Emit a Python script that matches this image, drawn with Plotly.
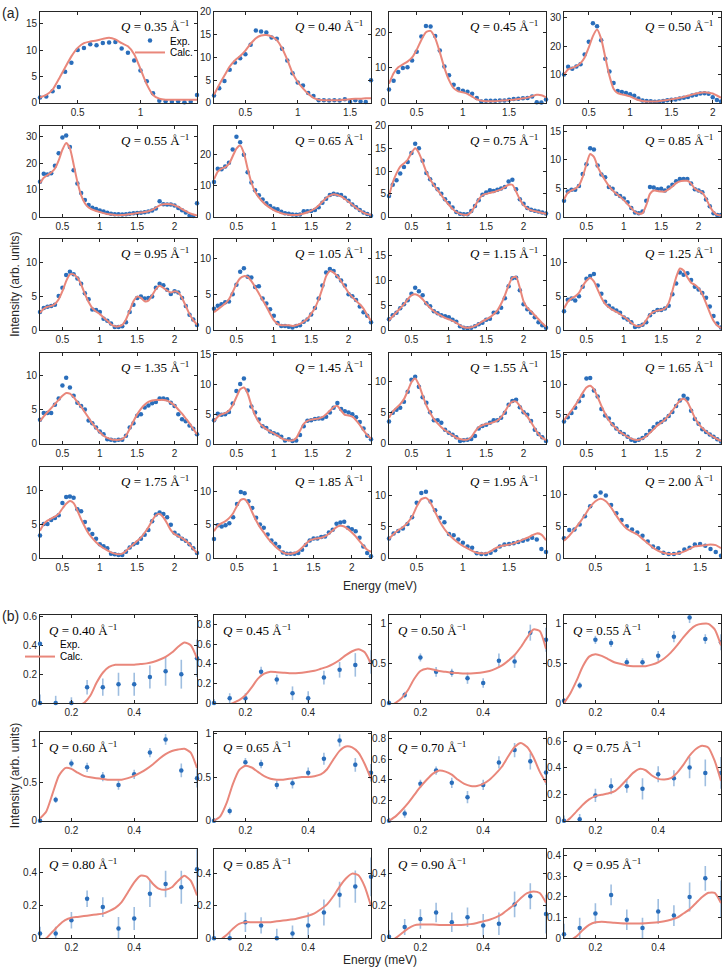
import plotly.graph_objects as go

W, H = 722, 975
BLUE = '#2a6ebb'
BLUE_ERR = 'rgba(42,110,187,0.45)'
RED = '#e9877b'
AXC = '#262626'
SANS = 'Liberation Sans, Arial, sans-serif'
SERIF = 'Liberation Serif, Times New Roman, serif'

# energy grids (meV)
E_A = [0.20, 0.25, 0.30, 0.35, 0.40, 0.45, 0.50, 0.55, 0.60, 0.65, 0.70,
       0.75, 0.80, 0.85, 0.90, 0.95, 1.00, 1.05, 1.10, 1.15, 1.20, 1.25,
       1.30, 1.35, 1.40, 1.45, 1.50, 1.55, 1.60, 1.65, 1.70, 1.75, 1.80,
       1.85, 1.90, 1.95, 2.00, 2.05, 2.10, 2.15, 2.20, 2.25, 2.30]
E_B = [0.10, 0.15, 0.20, 0.25, 0.30, 0.35, 0.40, 0.45, 0.50, 0.55, 0.60]
E_B_FINE = [0.10, 0.12, 0.14, 0.16, 0.18, 0.20, 0.22, 0.24, 0.26, 0.28,
            0.30, 0.32, 0.34, 0.36, 0.38, 0.40, 0.42, 0.44, 0.46, 0.48,
            0.50, 0.52, 0.54, 0.56, 0.58, 0.60]

# ---- panel (a) data ----
A035_EXP = [1.0, 1.2, 2.2, 3.0, 5.9, 7.6, 10.0, 10.4, 11.1, 10.9, 11.3, 11.4, 11.5, 10.3, 9.5, 8.0, 6.1, 4.1, 1.8, 0.4,
            0.3, 0.2, 0.3, 0.1, 0.2, 1.5]
A035_CALC = [1.0, 1.5, 2.5, 4.5, 6.7, 8.8, 10.4, 11.3, 11.6, 11.8, 12.1, 12.3, 12.0, 11.3, 10.7, 9.2, 6.4, 3.5, 1.5, 0.8,
             0.6, 0.6, 0.6, 0.6, 0.6, 0.6]
A040_EXP = [1.6, 3.2, 4.8, 7.3, 8.9, 9.8, 10.7, 12.8, 15.9, 15.7, 15.5, 14.4, 14.1, 11.9, 9.3, 6.5, 4.5, 3.8, 2.2, 1.5,
            0.6, 0.6, 0.5, 0.6, 0.5, 0.8, 0.2, 0.6, 0.3, 0.2, 5.0]
A040_CALC = [1.8, 4.0, 6.0, 8.0, 9.3, 10.3, 11.5, 13.0, 14.2, 14.8, 14.9, 14.6, 13.8, 12.0, 9.5, 6.6, 4.6, 3.2, 2.0, 1.1,
             0.7, 0.6, 0.6, 0.6, 0.6, 0.7, 0.8, 0.9, 0.9, 1.0, 1.0]
A045_EXP = [3.8, 6.3, 8.8, 10.0, 10.2, 12.1, 14.6, 19.0, 22.0, 21.8, 19.1, 15.0, 10.4, 7.9, 5.2, 4.0, 3.5, 3.2, 2.6, 1.4,
            0.4, 0.6, 0.6, 0.6, 0.7, 0.7, 0.9, 1.1, 1.2, 1.3, 1.4, 1.8, 0.2, 0.1, 1.0]
A045_CALC = [5.5, 8.5, 10.2, 11.0, 11.8, 13.0, 15.2, 18.0, 20.2, 20.6, 18.5, 14.5, 10.0, 6.5, 4.2, 3.3, 3.0, 2.6, 1.8, 1.0,
             0.6, 0.5, 0.5, 0.5, 0.6, 0.7, 0.8, 0.9, 1.1, 1.3, 1.5, 1.9, 2.3, 2.2, 1.6]
A050_EXP = [10.0, 12.7, 12.0, 12.8, 13.6, 17.0, 21.5, 28.0, 27.0, 22.0, 15.5, 11.0, 7.0, 4.2, 3.8, 3.5, 3.0, 2.5, 1.5, 0.8,
            0.7, 0.6, 0.4, 0.5, 0.7, 0.9, 1.1, 1.2, 1.5, 1.8, 2.1, 2.6, 2.9, 3.3, 3.4, 3.2, 2.0, 1.0, 0.5]
A050_CALC = [10.0, 11.8, 12.3, 12.9, 14.0, 16.0, 19.5, 23.5, 25.8, 22.5, 16.0, 9.5, 5.0, 3.4, 3.0, 2.7, 2.3, 1.6, 1.0, 0.7,
             0.5, 0.5, 0.5, 0.6, 0.8, 1.0, 1.3, 1.5, 1.8, 2.1, 2.5, 2.9, 3.3, 3.6, 3.7, 3.6, 3.3, 2.6, 1.8]
A055_EXP = [13.0, 16.0, 15.7, 16.2, 19.0, 23.7, 29.6, 30.3, 26.0, 17.3, 12.4, 8.8, 6.2, 4.3, 3.3, 2.8, 2.3, 1.9, 1.4, 1.1,
            0.9, 0.9, 0.8, 0.9, 1.1, 1.2, 1.3, 1.4, 1.6, 1.9, 2.3, 3.0, 5.7, 4.6, 4.5, 4.5, 4.1, 3.2, 2.4, 1.5,
            0.3, 0.2, 5.0]
A055_CALC = [12.5, 14.5, 15.5, 16.5, 18.0, 21.0, 25.0, 27.5, 25.5, 19.5, 13.0, 8.0, 5.0, 3.4, 2.6, 2.1, 1.7, 1.3, 1.0, 0.8,
             0.6, 0.5, 0.6, 0.7, 0.9, 1.1, 1.3, 1.5, 1.7, 2.0, 2.5, 3.3, 4.2, 4.6, 4.7, 4.6, 4.2, 3.6, 2.8, 2.0,
             1.3, 0.8, 0.4]
A065_EXP = [11.2, 15.5, 15.3, 16.2, 17.4, 21.7, 25.8, 24.0, 20.0, 14.3, 11.0, 8.5, 6.9, 5.5, 4.3, 3.4, 2.6, 2.4, 1.6, 1.1,
            0.9, 0.7, 0.6, 0.7, 1.7, 1.7, 1.8, 2.1, 3.0, 4.5, 5.8, 7.0, 7.4, 7.1, 7.0, 6.1, 5.1, 3.9, 3.0, 2.1,
            1.3, 0.8, 0.3]
A065_CALC = [12.0, 14.5, 15.5, 16.0, 17.0, 19.5, 22.0, 23.0, 20.5, 15.5, 11.0, 8.0, 6.2, 4.8, 3.7, 2.8, 2.1, 1.5, 1.1, 0.8,
             0.6, 0.5, 0.5, 0.7, 1.0, 1.4, 1.9, 2.6, 3.6, 4.8, 6.0, 6.8, 7.2, 7.0, 6.5, 5.7, 4.8, 3.8, 2.9, 2.0,
             1.3, 0.8, 0.5]
A075_EXP = [4.5, 7.0, 8.0, 9.5, 10.9, 12.0, 14.0, 16.0, 15.0, 12.3, 9.6, 8.2, 7.0, 6.0, 5.0, 3.8, 3.0, 2.0, 1.0, 0.6,
            0.5, 0.5, 1.2, 2.3, 3.6, 4.8, 5.3, 5.8, 5.6, 5.9, 6.2, 6.5, 7.7, 8.1, 6.0, 3.8, 2.8, 1.9, 1.5, 1.3,
            1.1, 0.9, 0.7]
A075_CALC = [4.5, 7.5, 9.5, 11.0, 11.7, 12.5, 14.0, 15.0, 14.0, 12.0, 9.8, 8.2, 6.9, 5.8, 4.7, 3.6, 2.6, 1.7, 1.0, 0.6,
             0.4, 0.4, 1.0, 2.3, 3.8, 4.7, 5.0, 5.2, 5.4, 5.7, 6.0, 6.5, 7.0, 7.0, 5.5, 3.8, 2.5, 1.8, 1.4, 1.2,
             1.0, 0.8, 0.6]
A085_EXP = [2.8, 4.4, 4.7, 4.7, 5.4, 7.5, 9.2, 12.0, 11.8, 9.0, 7.4, 6.9, 5.2, 4.9, 4.0, 3.6, 3.2, 2.5, 1.5, 0.7,
            0.6, 0.9, 2.8, 5.2, 5.1, 4.8, 4.9, 4.6, 5.1, 5.6, 6.2, 6.6, 6.6, 6.6, 5.8, 4.8, 4.6, 4.3, 3.0, 1.8,
            0.6, 0.3, 0.3]
A085_CALC = [3.0, 4.2, 4.6, 4.9, 5.5, 7.0, 9.2, 11.0, 10.5, 8.8, 7.5, 6.4, 5.4, 4.6, 4.0, 3.5, 2.9, 2.2, 1.5, 0.8,
             0.5, 0.6, 2.0, 4.0, 4.6, 4.5, 4.4, 4.4, 4.8, 5.3, 5.9, 6.2, 6.3, 6.3, 5.8, 4.9, 4.5, 4.2, 3.2, 1.8,
             0.8, 0.3, 0.2]
A095_EXP = [2.7, 3.3, 3.5, 3.6, 3.8, 5.1, 6.3, 8.2, 8.7, 8.3, 7.7, 6.9, 5.5, 4.6, 3.1, 3.0, 2.7, 1.7, 1.4, 1.0,
            0.5, 0.5, 0.6, 1.2, 2.7, 3.8, 4.8, 5.0, 4.7, 4.8, 5.0, 6.3, 6.9, 6.7, 6.0, 5.4, 5.8, 5.6, 4.8, 3.6,
            2.3, 1.6, 0.8]
A095_CALC = [2.6, 3.2, 3.5, 3.6, 3.9, 4.6, 5.8, 7.3, 8.3, 8.3, 7.8, 6.8, 5.4, 4.2, 3.3, 2.8, 2.4, 1.9, 1.4, 0.9,
             0.6, 0.6, 0.8, 1.6, 2.9, 4.3, 5.0, 4.8, 4.3, 4.4, 5.2, 6.1, 6.6, 6.3, 5.9, 5.6, 5.8, 5.6, 4.8, 3.6,
             2.4, 1.5, 0.8]
A105_EXP = [3.0, 3.4, 3.6, 3.9, 4.0, 5.0, 6.3, 8.1, 8.6, 7.4, 7.3, 6.0, 6.1, 4.4, 3.7, 2.9, 2.0, 1.0, 0.6, 0.6,
            0.5, 0.4, 0.6, 0.7, 1.2, 1.5, 2.2, 3.1, 4.4, 6.2, 8.0, 8.5, 8.2, 7.5, 6.9, 6.2, 5.0, 4.7, 4.2, 3.3,
            2.5, 2.0, 1.1]
A105_CALC = [2.5, 2.9, 3.3, 3.7, 4.3, 5.3, 6.4, 7.2, 7.5, 7.4, 6.8, 6.0, 5.1, 4.2, 3.3, 2.3, 1.4, 0.9, 0.7, 0.7,
             0.7, 0.6, 0.7, 0.9, 1.2, 1.6, 2.3, 3.1, 4.3, 5.8, 7.5, 8.2, 8.0, 7.5, 6.8, 6.0, 5.2, 4.6, 4.1, 3.6,
             3.0, 2.1, 1.3]
A115_EXP = [2.2, 3.0, 3.5, 4.4, 5.2, 6.0, 7.3, 8.5, 7.8, 7.0, 5.4, 4.8, 3.8, 3.4, 3.0, 2.8, 2.6, 2.1, 1.7, 0.8,
            0.5, 0.4, 0.5, 0.8, 1.2, 1.5, 2.1, 2.3, 3.5, 3.6, 4.5, 6.4, 8.8, 10.4, 10.5, 8.0, 5.2, 4.2, 3.5, 2.6,
            1.6, 1.0, 0.5]
A115_CALC = [2.0, 2.8, 3.6, 4.4, 5.2, 6.2, 7.0, 7.2, 6.9, 6.2, 5.3, 4.5, 3.8, 3.3, 2.9, 2.5, 2.2, 1.9, 1.5, 1.0,
             0.6, 0.5, 0.6, 0.9, 1.3, 1.8, 2.2, 2.6, 3.2, 4.0, 5.3, 7.0, 9.0, 10.5, 10.7, 8.5, 5.8, 4.5, 3.8, 3.0,
             2.2, 1.4, 0.7]
A125_EXP = [2.8, 4.5, 4.7, 4.4, 5.0, 6.4, 7.6, 8.0, 8.3, 6.6, 5.4, 4.2, 3.6, 3.2, 2.9, 2.6, 1.9, 1.6, 1.2, 0.5,
            0.6, 0.8, 1.2, 2.2, 2.7, 3.0, 3.0, 3.2, 3.6, 5.3, 6.9, 8.5, 8.2, 8.4, 7.4, 6.4, 6.0, 5.5, 4.8, 3.5,
            2.1, 1.0, 0.4]
A125_CALC = [3.2, 4.2, 4.7, 5.0, 5.5, 6.5, 7.3, 7.7, 7.2, 6.0, 4.8, 3.9, 3.4, 3.0, 2.7, 2.4, 2.0, 1.6, 1.1, 0.7,
             0.6, 0.8, 1.5, 2.3, 2.7, 2.9, 3.0, 3.2, 4.0, 5.8, 7.8, 9.1, 8.8, 7.8, 7.0, 6.7, 6.2, 5.3, 4.0, 2.6,
             1.4, 0.7, 0.3]
A135_EXP = [3.5, 4.5, 4.5, 4.5, 5.7, 6.6, 8.5, 9.6, 8.2, 7.0, 6.0, 5.5, 5.0, 3.4, 3.0, 2.4, 1.8, 1.4, 0.7, 0.6,
            0.5, 0.6, 0.6, 1.2, 2.4, 3.0, 4.1, 4.3, 5.3, 5.6, 5.9, 6.1, 6.6, 6.6, 6.5, 6.0, 5.5, 4.3, 3.6, 3.3,
            2.7, 2.2, 1.4]
A135_CALC = [3.3, 4.0, 4.6, 5.2, 5.8, 6.4, 7.0, 7.4, 7.3, 6.8, 6.1, 5.4, 4.6, 3.8, 3.0, 2.3, 1.7, 1.2, 0.9, 0.7,
             0.6, 0.6, 0.7, 1.2, 2.2, 3.3, 4.3, 5.1, 5.7, 6.1, 6.3, 6.4, 6.4, 6.4, 6.3, 6.0, 5.6, 5.0, 4.4, 3.7,
             3.0, 2.2, 1.4]
A145_EXP = [4.0, 5.1, 4.9, 5.0, 5.4, 6.8, 8.9, 10.1, 11.0, 9.0, 6.3, 5.3, 4.1, 3.0, 2.7, 2.1, 1.8, 1.6, 1.2, 0.6,
            0.8, 0.5, 0.6, 1.5, 3.0, 3.9, 4.0, 4.2, 4.3, 4.3, 4.6, 5.3, 6.1, 6.9, 5.9, 5.5, 5.3, 5.0, 4.5, 3.7,
            2.6, 1.4, 0.8]
A145_CALC = [3.8, 4.6, 5.0, 5.2, 5.6, 6.5, 7.9, 9.2, 9.5, 8.5, 6.5, 4.8, 3.7, 3.0, 2.5, 2.1, 1.8, 1.4, 1.0, 0.7,
             0.6, 0.6, 1.0, 2.2, 3.4, 3.9, 4.1, 4.2, 4.3, 4.5, 5.0, 5.6, 6.2, 6.4, 5.6, 4.9, 4.8, 4.6, 4.0, 3.2,
             2.3, 1.5, 0.9]
A155_EXP = [3.6, 5.0, 5.5, 5.8, 6.8, 8.4, 10.3, 10.8, 9.2, 7.5, 6.6, 5.1, 3.8, 3.8, 3.4, 2.3, 1.8, 1.5, 1.1, 0.5,
            0.6, 0.7, 0.8, 1.3, 2.5, 2.9, 3.1, 3.4, 3.8, 3.8, 4.2, 5.0, 6.3, 6.9, 7.1, 5.9, 5.1, 4.7, 3.7, 2.3,
            1.6, 1.1, 0.5]
A155_CALC = [4.2, 5.2, 5.8, 6.4, 7.2, 8.5, 9.9, 10.5, 9.5, 7.8, 6.2, 5.0, 4.0, 3.3, 2.7, 2.2, 1.8, 1.4, 1.0, 0.8,
             0.7, 0.7, 1.1, 2.0, 2.7, 3.0, 3.2, 3.3, 3.5, 3.8, 4.3, 5.2, 6.2, 6.8, 6.8, 6.1, 5.1, 4.4, 3.5, 2.5,
             1.6, 1.0, 0.6]
A165_EXP = [3.8, 4.5, 5.2, 6.1, 7.2, 8.1, 11.0, 11.1, 9.0, 8.0, 5.9, 4.8, 4.3, 3.3, 2.6, 2.0, 1.7, 1.2, 0.7, 0.5,
            0.7, 1.0, 1.5, 2.2, 2.8, 3.4, 3.7, 4.1, 4.7, 5.4, 6.4, 7.3, 8.1, 7.6, 5.6, 4.2, 3.4, 2.5, 2.0, 1.6,
            1.2, 0.8, 0.4]
A165_CALC = [4.0, 4.8, 5.6, 6.5, 7.5, 8.6, 9.5, 9.8, 9.2, 7.9, 6.4, 5.1, 4.0, 3.2, 2.6, 2.0, 1.6, 1.2, 0.9, 0.7,
             0.7, 0.9, 1.3, 1.9, 2.5, 3.1, 3.6, 4.1, 4.8, 5.6, 6.5, 7.3, 7.6, 7.1, 5.8, 4.4, 3.4, 2.7, 2.1, 1.6,
             1.2, 0.8, 0.5]
A175_EXP = [3.3, 5.0, 5.0, 5.6, 5.9, 6.3, 8.1, 9.0, 9.1, 8.9, 7.2, 6.9, 5.3, 4.2, 3.5, 2.8, 2.0, 1.7, 1.4, 0.6,
            0.5, 0.4, 0.4, 0.9, 1.5, 2.0, 2.2, 2.8, 3.4, 4.1, 5.4, 6.4, 6.7, 6.5, 6.0, 4.9, 3.7, 3.3, 2.8, 2.5,
            2.0, 1.4, 0.7]
A175_CALC = [4.0, 5.0, 5.5, 5.8, 6.1, 6.5, 7.3, 8.0, 8.4, 8.1, 7.0, 5.7, 4.6, 3.6, 2.9, 2.3, 1.8, 1.4, 1.1, 0.8,
             0.6, 0.5, 0.6, 1.0, 1.5, 2.0, 2.5, 3.0, 3.7, 4.5, 5.5, 6.3, 6.5, 6.0, 5.1, 4.1, 3.5, 3.2, 2.9, 2.5,
             2.0, 1.3, 0.7]
A185_EXP = [2.8, 4.9, 4.7, 4.9, 5.2, 6.1, 8.1, 9.9, 9.7, 8.5, 7.5, 6.0, 5.0, 4.5, 3.5, 2.6, 2.1, 1.6, 0.8, 0.6,
            0.6, 0.6, 0.7, 1.2, 1.9, 2.6, 2.9, 2.9, 3.1, 3.2, 3.8, 4.2, 5.1, 5.3, 5.4, 4.5, 4.3, 4.0, 3.0, 1.7,
            0.7, 0.2]
A185_CALC = [4.0, 4.8, 5.2, 5.5, 6.0, 6.7, 7.8, 8.7, 8.8, 8.1, 6.8, 5.6, 4.6, 3.8, 3.0, 2.3, 1.7, 1.2, 0.8, 0.6,
             0.6, 0.7, 1.0, 1.5, 2.1, 2.6, 2.8, 2.9, 3.0, 3.2, 3.6, 4.1, 4.6, 4.8, 4.7, 4.3, 3.8, 3.2, 2.5, 1.8,
             1.2, 0.9]
A195_EXP = [3.1, 3.9, 4.3, 4.7, 5.4, 6.5, 8.8, 10.4, 10.6, 9.0, 7.6, 6.4, 5.7, 3.8, 3.6, 2.9, 2.4, 1.8, 1.6, 0.7,
            0.6, 0.6, 0.8, 1.2, 1.8, 2.1, 2.2, 2.3, 2.5, 2.7, 2.9, 3.2, 2.9, 1.4, 0.9]
A195_CALC = [3.0, 3.8, 4.4, 4.9, 5.6, 6.6, 8.2, 9.4, 9.6, 8.8, 7.3, 5.8, 4.6, 3.7, 3.0, 2.4, 1.9, 1.5, 1.1, 0.8,
             0.7, 0.7, 1.0, 1.5, 1.8, 2.0, 2.1, 2.3, 2.6, 2.9, 3.2, 3.6, 3.9, 3.7, 2.8]
A200_EXP = [3.1, 4.4, 4.5, 5.3, 6.6, 8.2, 9.8, 10.4, 9.9, 8.4, 7.1, 6.0, 5.0, 4.5, 4.0, 3.5, 2.6, 1.8, 1.5, 0.8,
            0.6, 0.6, 0.8, 1.3, 1.6, 2.1, 2.2, 1.9, 1.4, 0.9, 0.3]
A200_CALC = [2.7, 3.5, 4.5, 5.6, 6.8, 8.1, 9.0, 9.4, 9.0, 8.0, 6.7, 5.5, 4.6, 4.1, 3.7, 3.0, 2.3, 1.6, 1.1, 0.8,
             0.6, 0.6, 0.7, 1.0, 1.4, 1.8, 1.9, 2.0, 2.1, 2.0, 1.5]

# ---- panel (b) data ----
B040_EXP = [0.0, 0.0, 0.0, 0.11, 0.11, 0.13, 0.13, 0.18, 0.22, 0.20, 0.31]
B040_ERR = [0.06, 0.05, 0.04, 0.05, 0.06, 0.08, 0.08, 0.08, 0.10, 0.10, 0.13]
B040_CALC = [-0.1, -0.1, -0.1, -0.08, -0.06, -0.04, -0.02, 0.0, 0.05, 0.14, 0.21, 0.25, 0.265, 0.265, 0.265, 0.265,
             0.27, 0.275, 0.285, 0.30, 0.32, 0.35, 0.39, 0.42, 0.40, 0.31]
B045_EXP = [0.0, 0.05, 0.05, 0.32, 0.24, 0.10, 0.05, 0.26, 0.34, 0.39, 0.42]
B045_ERR = [0.04, 0.05, 0.05, 0.05, 0.05, 0.07, 0.07, 0.07, 0.08, 0.12, 0.12]
B045_CALC = [-0.1, -0.08, -0.03, 0.0, 0.03, 0.08, 0.16, 0.25, 0.30, 0.32, 0.315, 0.31, 0.305, 0.305, 0.31, 0.32,
             0.33, 0.35, 0.37, 0.40, 0.44, 0.49, 0.53, 0.55, 0.52, 0.40]
B050_EXP = [0.0, 0.10, 0.57, 0.39, 0.38, 0.31, 0.25, 0.53, 0.52, 0.88, 0.79]
B050_ERR = [0.04, 0.04, 0.05, 0.06, 0.05, 0.07, 0.06, 0.09, 0.08, 0.10, 0.15]
B050_CALC = [-0.05, 0.0, 0.06, 0.16, 0.30, 0.40, 0.43, 0.42, 0.40, 0.39, 0.38, 0.375, 0.37, 0.37, 0.375, 0.385,
             0.40, 0.43, 0.47, 0.53, 0.60, 0.70, 0.82, 0.92, 0.90, 0.68]
B055_EXP = [0.03, 0.22, 0.79, 0.75, 0.51, 0.51, 0.59, 0.83, 1.07, 0.80, 0.76]
B055_ERR = [0.03, 0.04, 0.05, 0.05, 0.05, 0.05, 0.06, 0.07, 0.07, 0.06, 0.10]
B055_CALC = [0.0, 0.12, 0.28, 0.46, 0.58, 0.61, 0.59, 0.55, 0.51, 0.49, 0.47, 0.46, 0.46, 0.46, 0.48, 0.51,
             0.56, 0.63, 0.72, 0.82, 0.91, 0.97, 0.99, 0.99, 0.92, 0.72]
B060_EXP = [0.0, 0.27, 0.74, 0.69, 0.57, 0.46, 0.60, 0.88, 1.05, 0.65, 0.55]
B060_ERR = [0.03, 0.04, 0.05, 0.06, 0.06, 0.06, 0.06, 0.06, 0.07, 0.09, 0.12]
B060_CALC = [0.03, 0.12, 0.35, 0.58, 0.68, 0.67, 0.62, 0.58, 0.56, 0.55, 0.54, 0.53, 0.53, 0.53, 0.55, 0.58,
             0.62, 0.67, 0.73, 0.80, 0.86, 0.90, 0.92, 0.93, 0.88, 0.68]
B065_EXP = [0.0, 0.11, 0.67, 0.65, 0.41, 0.43, 0.55, 0.71, 0.92, 0.64, 0.55]
B065_ERR = [0.03, 0.04, 0.05, 0.05, 0.05, 0.06, 0.06, 0.07, 0.07, 0.08, 0.10]
B065_CALC = [0.0, 0.05, 0.20, 0.42, 0.58, 0.63, 0.61, 0.56, 0.51, 0.48, 0.47, 0.47, 0.48, 0.49, 0.50, 0.50,
             0.51, 0.53, 0.59, 0.70, 0.80, 0.85, 0.84, 0.78, 0.65, 0.48]
B070_EXP = [0.0, 0.07, 0.36, 0.49, 0.37, 0.23, 0.35, 0.57, 0.69, 0.58, 0.47]
B070_ERR = [0.03, 0.04, 0.04, 0.04, 0.05, 0.06, 0.05, 0.06, 0.07, 0.08, 0.12]
B070_CALC = [0.0, 0.04, 0.10, 0.17, 0.25, 0.33, 0.40, 0.46, 0.49, 0.48, 0.45, 0.40, 0.36, 0.34, 0.34, 0.36,
             0.40, 0.46, 0.53, 0.63, 0.72, 0.76, 0.72, 0.62, 0.48, 0.37]
B075_EXP = [0.0, 0.01, 0.19, 0.26, 0.26, 0.24, 0.35, 0.32, 0.40, 0.36, 0.36]
B075_ERR = [0.04, 0.04, 0.05, 0.06, 0.05, 0.08, 0.06, 0.06, 0.08, 0.10, 0.12]
B075_CALC = [-0.02, 0.02, 0.07, 0.12, 0.16, 0.185, 0.195, 0.205, 0.22, 0.26, 0.31, 0.36, 0.39, 0.38, 0.34, 0.315,
             0.31, 0.32, 0.36, 0.42, 0.49, 0.54, 0.565, 0.55, 0.45, 0.30]
B080_EXP = [0.03, 0.03, 0.11, 0.24, 0.19, 0.06, 0.12, 0.27, 0.33, 0.31, 0.42]
B080_ERR = [0.04, 0.04, 0.05, 0.05, 0.06, 0.07, 0.07, 0.08, 0.08, 0.10, 0.15]
B080_CALC = [-0.03, 0.0, 0.04, 0.08, 0.11, 0.125, 0.13, 0.135, 0.14, 0.145, 0.15, 0.165, 0.185, 0.22, 0.28, 0.34,
             0.38, 0.375, 0.33, 0.30, 0.295, 0.31, 0.35, 0.38, 0.35, 0.26]
B085_EXP = [0.0, 0.0, 0.10, 0.08, 0.0, 0.03, 0.08, 0.16, 0.27, 0.32, 0.38]
B085_ERR = [0.05, 0.04, 0.06, 0.05, 0.06, 0.05, 0.08, 0.08, 0.08, 0.10, 0.12]
B085_CALC = [-0.04, -0.01, 0.02, 0.06, 0.09, 0.10, 0.10, 0.10, 0.10, 0.10, 0.105, 0.11, 0.115, 0.12, 0.13, 0.14,
             0.155, 0.18, 0.21, 0.26, 0.32, 0.37, 0.40, 0.39, 0.32, 0.20]
B090_EXP = [0.01, 0.07, 0.12, 0.16, 0.10, 0.13, 0.08, 0.09, 0.21, 0.26, 0.15]
B090_ERR = [0.04, 0.05, 0.06, 0.06, 0.06, 0.06, 0.07, 0.07, 0.08, 0.08, 0.12]
B090_CALC = [-0.03, 0.0, 0.03, 0.06, 0.08, 0.085, 0.085, 0.085, 0.083, 0.082, 0.082, 0.082, 0.084, 0.088, 0.095,
             0.105, 0.115, 0.13, 0.15, 0.18, 0.21, 0.25, 0.28, 0.29, 0.28, 0.22]
B095_EXP = [0.02, 0.05, 0.12, 0.21, 0.09, 0.05, 0.13, 0.11, 0.20, 0.29, 0.19]
B095_ERR = [0.05, 0.05, 0.05, 0.05, 0.05, 0.05, 0.06, 0.05, 0.07, 0.06, 0.09]
B095_CALC = [-0.03, -0.01, 0.01, 0.04, 0.065, 0.078, 0.08, 0.078, 0.075, 0.073, 0.072, 0.072, 0.072, 0.073, 0.075,
             0.078, 0.083, 0.09, 0.10, 0.12, 0.14, 0.17, 0.20, 0.22, 0.22, 0.17]

# (Q label, exp, calc, x max, y max, y tick step)
PANELS_A = [
    ('0.35', A035_EXP, A035_CALC, 1.45, 17.2, 5), ('0.40', A040_EXP, A040_CALC, 1.7, 20, 5),
    ('0.45', A045_EXP, A045_CALC, 1.9, 26, 10), ('0.50', A050_EXP, A050_CALC, 2.1, 32, 10),
    ('0.55', A055_EXP, A055_CALC, 2.3, 34, 10), ('0.65', A065_EXP, A065_CALC, 2.3, 29.4, 10),
    ('0.75', A075_EXP, A075_CALC, 2.3, 20, 5), ('0.85', A085_EXP, A085_CALC, 2.3, 16, 5),
    ('0.95', A095_EXP, A095_CALC, 2.3, 13.5, 5), ('1.05', A105_EXP, A105_CALC, 2.3, 12.6, 5),
    ('1.15', A115_EXP, A115_CALC, 2.3, 18.2, 5), ('1.25', A125_EXP, A125_CALC, 2.3, 13.4, 5),
    ('1.35', A135_EXP, A135_CALC, 2.3, 13.2, 5), ('1.45', A145_EXP, A145_CALC, 2.3, 15.3, 5),
    ('1.55', A155_EXP, A155_CALC, 2.3, 14.6, 5), ('1.65', A165_EXP, A165_CALC, 2.3, 15.3, 5),
    ('1.75', A175_EXP, A175_CALC, 2.3, 13.5, 5), ('1.85', A185_EXP, A185_CALC, 2.25, 13.7, 5),
    ('1.95', A195_EXP, A195_CALC, 1.9, 14.6, 5), ('2.00', A200_EXP, A200_CALC, 1.7, 14.5, 5),
]
PANELS_B = [
    ('0.40', B040_EXP, B040_ERR, B040_CALC, 0.61, 0.2), ('0.45', B045_EXP, B045_ERR, B045_CALC, 0.9, 0.2),
    ('0.50', B050_EXP, B050_ERR, B050_CALC, 1.1, 0.5), ('0.55', B055_EXP, B055_ERR, B055_CALC, 1.1, 0.5),
    ('0.60', B060_EXP, B060_ERR, B060_CALC, 1.15, 0.5), ('0.65', B065_EXP, B065_ERR, B065_CALC, 1.02, 0.5),
    ('0.70', B070_EXP, B070_ERR, B070_CALC, 0.87, 0.2), ('0.75', B075_EXP, B075_ERR, B075_CALC, 0.67, 0.2),
    ('0.80', B080_EXP, B080_ERR, B080_CALC, 0.54, 0.2), ('0.85', B085_EXP, B085_ERR, B085_CALC, 0.55, 0.2),
    ('0.90', B090_EXP, B090_ERR, B090_CALC, 0.55, 0.2), ('0.95', B095_EXP, B095_ERR, B095_CALC, 0.43, 0.1),
]

# panel boxes in pixels
COLS = [(40, 197), (214, 371), (389, 546), (564, 721)]
ROWS_A = [(7, 99), (122, 214), (237, 329), (352, 444), (467, 559)]
ROWS_B = [(617, 706), (735, 825), (854, 944)]


def qlabel(q):
    return '<i>Q</i> = %s Å<sup>−1</sup>' % q


def axis_style(dom, rng, anchor):
    return dict(domain=dom, range=rng, anchor=anchor, showline=True, linecolor=AXC, linewidth=1,
                mirror='ticks', ticks='inside', ticklen=3, tickwidth=1, tickcolor=AXC,
                showgrid=False, zeroline=False,
                tickfont=dict(family=SANS, size=10, color=AXC))


fig = go.Figure()
layout = {}
annotations = []


def add_axes(n, col, row, xrange, yrange, ytick, xticks):
    xa = 'xaxis' if n == 1 else 'xaxis%d' % n
    ya = 'yaxis' if n == 1 else 'yaxis%d' % n
    xr = 'x' if n == 1 else 'x%d' % n
    yr = 'y' if n == 1 else 'y%d' % n
    xs = axis_style([col[0] / W, col[1] / W], xrange, yr)
    xs.update(xticks)
    ys = axis_style([1 - row[1] / H, 1 - row[0] / H], yrange, xr)
    ys.update(tick0=0, dtick=ytick)
    layout[xa] = xs
    layout[ya] = ys
    return xr, yr


n = 0
for i, (q, exp, calc, xmax, ymax, dy) in enumerate(PANELS_A):
    n += 1
    r, c = divmod(i, 4)
    col, row = COLS[c], ROWS_A[r]
    xr, yr = add_axes(n, col, row, [0.2, xmax], [0, ymax], dy, dict(tick0=0, dtick=0.5))
    fig.add_trace(go.Scatter(x=E_A[:len(exp)], y=exp, mode='markers', name='Exp.',
                             marker=dict(size=4.5, color=BLUE), cliponaxis=False,
                             showlegend=(i == 0), legend='legend', xaxis=xr, yaxis=yr))
    fig.add_trace(go.Scatter(x=E_A[:len(calc)], y=calc, mode='lines', name='Calc.',
                             line=dict(color=RED, width=2, shape='spline', smoothing=0.6),
                             showlegend=(i == 0), legend='legend2', xaxis=xr, yaxis=yr))
    annotations.append(dict(text=qlabel(q), xref='paper', yref='paper',
                            x=(col[1] - 6) / W, y=1 - (row[0] + 4) / H,
                            xanchor='right', yanchor='top', showarrow=False,
                            font=dict(family=SERIF, size=13, color='black')))

for i, (q, exp, err, calc, ymax, dy) in enumerate(PANELS_B):
    n += 1
    r, c = divmod(i, 4)
    col, row = COLS[c], ROWS_B[r]
    xr, yr = add_axes(n, col, row, [0.1, 0.6], [0, ymax], dy, dict(tickvals=[0.2, 0.4]))
    fig.add_trace(go.Scatter(x=E_B, y=exp, mode='markers', name='Exp.',
                             marker=dict(size=4.5, color=BLUE), cliponaxis=False,
                             error_y=dict(type='data', array=err, color=BLUE_ERR, thickness=1.6, width=0),
                             showlegend=(i == 0), legend='legend3', xaxis=xr, yaxis=yr))
    fig.add_trace(go.Scatter(x=E_B_FINE, y=calc, mode='lines', name='Calc.',
                             line=dict(color=RED, width=2, shape='spline', smoothing=0.6),
                             showlegend=(i == 0), legend='legend4', xaxis=xr, yaxis=yr))
    annotations.append(dict(text=qlabel(q), xref='paper', yref='paper',
                            x=(col[0] + 7) / W, y=1 - (row[0] + 5) / H,
                            xanchor='left', yanchor='top', showarrow=False,
                            font=dict(family=SERIF, size=13, color='black')))

# panel letters and shared axis titles
for txt, yy in [('(a)', 8), ('(b)', 618)]:
    annotations.append(dict(text=txt, xref='paper', yref='paper', x=0, y=1 - yy / H,
                            xanchor='left', yanchor='middle', showarrow=False,
                            font=dict(family=SANS, size=14, color=AXC)))
for yy in [283, 780]:
    annotations.append(dict(text='Intensity (arb. units)', xref='paper', yref='paper',
                            x=15 / W, y=1 - yy / H, textangle=-90, xanchor='center', yanchor='middle',
                            showarrow=False, font=dict(family=SANS, size=12, color=AXC)))
for yy in [588, 966]:
    annotations.append(dict(text='Energy (meV)', xref='paper', yref='paper',
                            x=380 / W, y=1 - yy / H, xanchor='center', yanchor='middle',
                            showarrow=False, font=dict(family=SANS, size=12, color=AXC)))


def leg(xpx, ypx):
    return dict(x=xpx / W, y=1 - ypx / H, xanchor='left', yanchor='middle',
                bgcolor='rgba(0,0,0,0)', borderwidth=0, itemwidth=30,
                font=dict(family=SANS, size=10, color='black'))


layout.update(
    width=W, height=H, autosize=False,
    margin=dict(l=0, r=0, t=0, b=0),
    paper_bgcolor='white', plot_bgcolor='white',
    showlegend=True,
    legend=leg(130, 36), legend2=leg(130, 48),
    legend3=leg(20, 646), legend4=leg(20, 659),
    annotations=annotations,
)
fig.update_layout(**layout)
fig.write_html('out.html', config={'displayModeBar': False},
               post_script="document.body.style.margin='0px';document.body.style.overflow='hidden';")
